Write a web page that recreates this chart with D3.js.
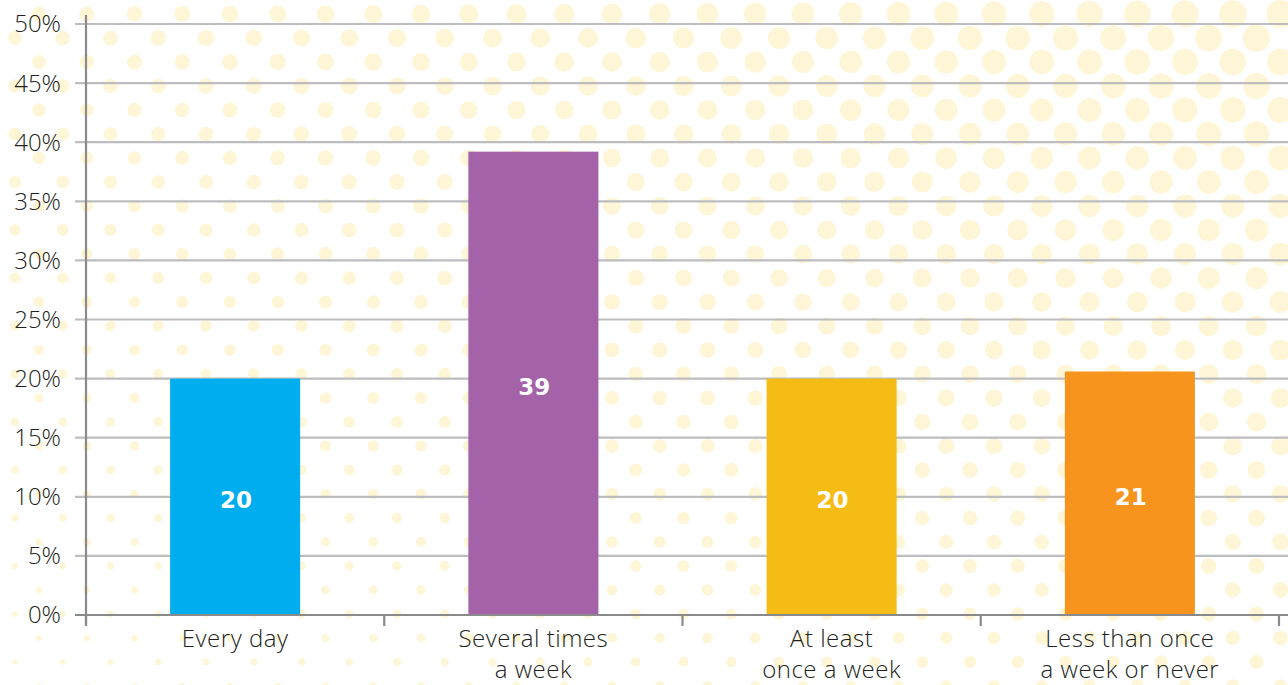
<!DOCTYPE html>
<html>
<head>
<meta charset="utf-8">
<script src="https://cdn.jsdelivr.net/npm/d3@7"></script>
<style>
  html, body { margin: 0; padding: 0; background: #ffffff; }
  svg { display: block; }
</style>
</head>
<body>
<svg id="chart" width="1288" height="685"></svg>
<script>
const categories = [["Every day"], ["Several times", "a week"], ["At least", "once a week"], ["Less than once", "a week or never"]];
const values = [20, 39.2, 20, 20.6];
const barLabels = ["20", "39", "20", "21"];
const colors = ["#00AEEF", "#A463A8", "#F5BC16", "#F7941D"];
const yTicks = [0, 5, 10, 15, 20, 25, 30, 35, 40, 45, 50];

(function () {
const W = 1288, H = 685;
const svg = d3.select("#chart");
const font = "'Open Sans', Lato, sans-serif";

// decorative dot background
const bg = svg.append("g");
const dx = 47.75, dy = 24;
for (let row = 0; row * dy + 14 - dy <= H + dy; row++) {
  const cy = 14 + row * dy;
  const off = row % 2 === 0 ? 39 : 15;
  for (let cx = off - dx; cx <= W + dx; cx += dx) {
    const r = Math.max(2, 7.2 + 7 * cx / W - 4.8 * cy / H - (cx / W) * (cy / H) * 2.5);
    bg.append("circle").attr("cx", cx).attr("cy", cy).attr("r", r).attr("fill", "#FEF6D6");
  }
}

const mLeft = 86, mRight = 1279, mTop = 24, mBottom = 615;
const x = d3.scaleBand().domain(d3.range(categories.length)).range([mLeft, mRight]).paddingInner(0.564).paddingOuter(0.282);
const y = d3.scaleLinear().domain([0, 50]).range([mBottom, mTop]);

// gridlines
svg.append("g").selectAll("line").data(yTicks.filter(d => d > 0)).join("line")
  .attr("x1", 75).attr("x2", W).attr("y1", d => y(d)).attr("y2", d => y(d))
  .attr("stroke", "#BDBDBF").attr("stroke-width", 2.2);

// bars
svg.append("g").selectAll("rect").data(values).join("rect")
  .attr("x", (d, i) => x(i)).attr("width", x.bandwidth())
  .attr("y", d => y(d)).attr("height", d => mBottom - y(d))
  .attr("fill", (d, i) => colors[i]);

// bar labels
svg.append("g").selectAll("text").data(values).join("text")
  .attr("x", (d, i) => x(i) + x.bandwidth() / 2 + 1)
  .attr("y", d => (y(d) + mBottom) / 2 + 3)
  .attr("dy", "0.36em")
  .attr("text-anchor", "middle")
  .attr("fill", "#ffffff")
  .attr("font-family", "'DejaVu Sans', sans-serif")
  .attr("font-weight", "bold")
  .attr("font-size", 23)
  .text((d, i) => barLabels[i]);

// y axis
svg.append("line").attr("x1", mLeft).attr("x2", mLeft).attr("y1", 15).attr("y2", mBottom + 10)
  .attr("stroke", "#8A8A8C").attr("stroke-width", 2.2);
// zero baseline
svg.append("line").attr("x1", 75).attr("x2", W).attr("y1", mBottom).attr("y2", mBottom)
  .attr("stroke", "#8A8A8C").attr("stroke-width", 2.2);
// x ticks at band boundaries
const bounds = d3.range(categories.length + 1).map(i => mLeft + i * x.step());
svg.append("g").selectAll("line").data(bounds).join("line")
  .attr("x1", d => d).attr("x2", d => d).attr("y1", mBottom).attr("y2", mBottom + 11)
  .attr("stroke", "#8A8A8C").attr("stroke-width", 2.2);

// y tick labels
svg.append("g").selectAll("text").data(yTicks).join("text")
  .attr("x", 61).attr("y", d => y(d)).attr("dy", "0.35em")
  .attr("text-anchor", "end").attr("fill", "#231F20")
  .attr("font-family", font).attr("font-size", 24).attr("font-weight", 300)
  .text(d => d + "%");

// x labels
const xl = svg.append("g").selectAll("text").data(categories).join("text")
  .attr("text-anchor", "middle").attr("fill", "#231F20")
  .attr("font-family", font).attr("font-size", 24).attr("font-weight", 300)
  .attr("letter-spacing", 0.5);
xl.each(function (lines, i) {
  d3.select(this).selectAll("tspan").data(lines).join("tspan")
    .attr("x", x(i) + x.bandwidth() / 2)
    .attr("y", (d, j) => 647 + j * 31)
    .text(d => d);
});
})();
</script>
</body>
</html>
